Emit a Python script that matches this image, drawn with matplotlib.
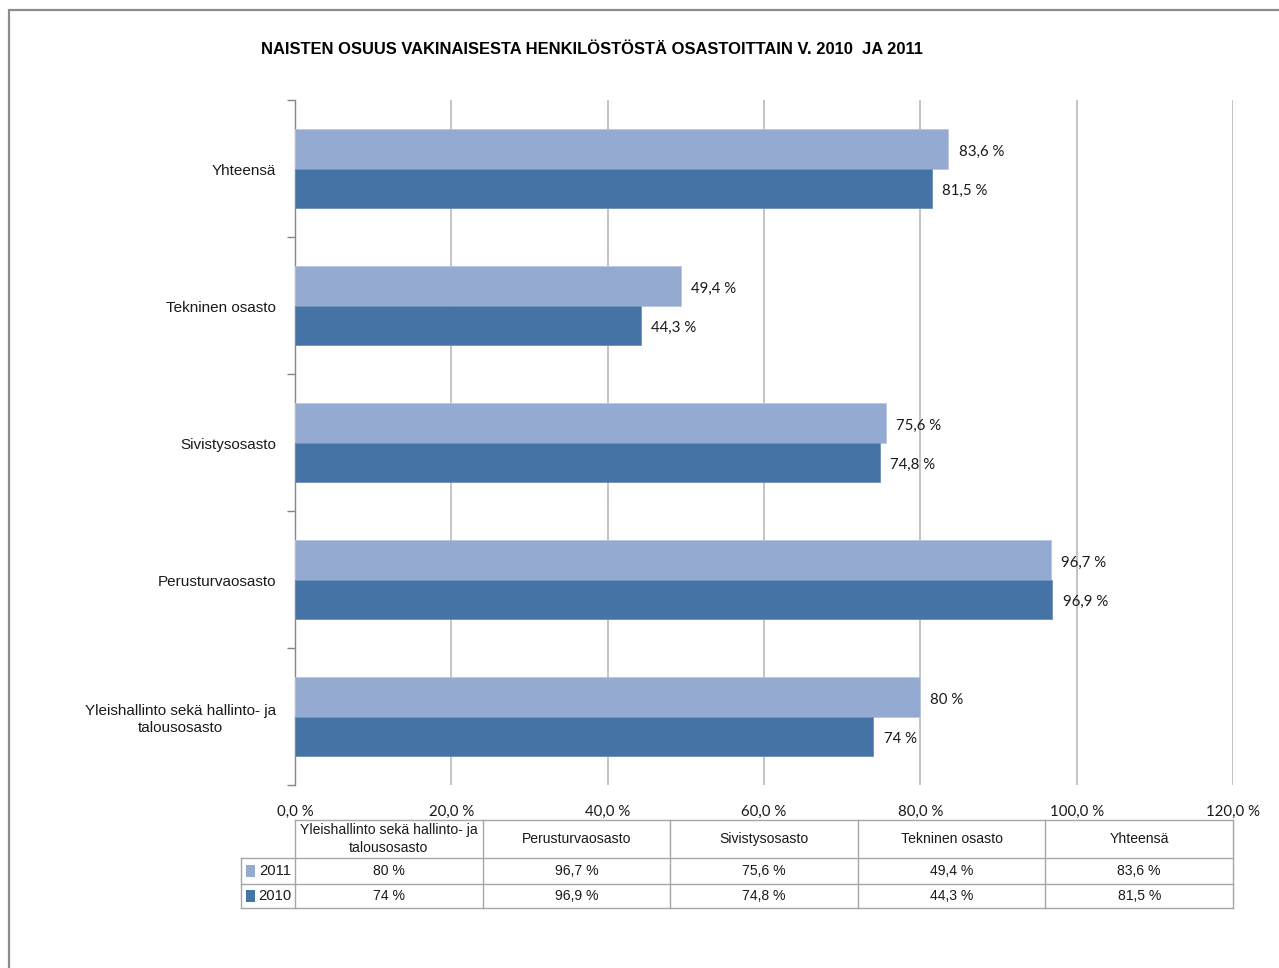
import numpy as np
import matplotlib.pyplot as plt
from matplotlib.patches import Rectangle
from matplotlib import font_manager

# data (bottom to top as drawn)
categories = ['Yleishallinto sekä hallinto- ja\ntalousosasto', 'Perusturvaosasto',
              'Sivistysosasto', 'Tekninen osasto', 'Yhteensä']
table_labels = ['Yleishallinto sekä hallinto- ja\ntalousosasto', 'Perusturvaosasto',
                'Sivistysosasto', 'Tekninen osasto', 'Yhteensä']
vals_2011 = [80, 96.7, 75.6, 49.4, 83.6]
vals_2010 = [74, 96.9, 74.8, 44.3, 81.5]
labels_2011 = ['80 %', '96,7 %', '75,6 %', '49,4 %', '83,6 %']
labels_2010 = ['74 %', '96,9 %', '74,8 %', '44,3 %', '81,5 %']
xticks = [0, 20, 40, 60, 80, 100, 120]
xticklabels = ['0,0 %', '20,0 %', '40,0 %', '60,0 %', '80,0 %', '100,0 %', '120,0 %']

c2011 = '#95AAD0'
c2010 = '#4573A6'
grid_c = '#BFBFBF'
axis_c = '#868686'

names = {f.name for f in font_manager.fontManager.ttflist}
narrow = ['Liberation Sans Narrow', 'Liberation Sans'] if 'Liberation Sans Narrow' in names else ['Liberation Sans']
calib = ['Lato', 'DejaVu Sans']

fig = plt.figure(figsize=(12.79, 9.68), dpi=100)
ax = fig.add_axes([295 / 1279, 1 - 785 / 968, (1233 - 295) / 1279, 685 / 968])

# outer frame
fig.patches.append(Rectangle((9 / 1279, -0.1), 1.2, 1.1 - 10 / 968, transform=fig.transFigure,
                             fill=False, edgecolor='#8C8C8C', linewidth=1.6))

y = np.arange(len(categories))
h = 0.285
ax.barh(y + h / 2, vals_2011, height=h, color=c2011, edgecolor='#B8C6E0', linewidth=0.6, zorder=3)
ax.barh(y - h / 2, vals_2010, height=h, color=c2010, edgecolor='#6F90BA', linewidth=0.6, zorder=3)

for i in range(len(categories)):
    ax.text(vals_2011[i] + 1.3, y[i] + h / 2 - 0.02, labels_2011[i], va='center', ha='left',
            fontsize=10.8, family=calib, color='#1A1A1A', zorder=4)
    ax.text(vals_2010[i] + 1.3, y[i] - h / 2 - 0.02, labels_2010[i], va='center', ha='left',
            fontsize=10.8, family=calib, color='#1A1A1A', zorder=4)

ax.set_xlim(0, 120)
ax.set_ylim(-0.5, len(categories) - 0.5)
ax.set_xticks(xticks)
ax.set_xticklabels(xticklabels, family=calib, fontsize=10.8, color='#1A1A1A')
ax.tick_params(axis='x', length=0, pad=14)
for x in xticks[1:]:
    ax.axvline(x, color=grid_c, linewidth=1.3, zorder=1)

# y axis: category ticks between groups
ax.set_yticks(np.arange(-0.5, len(categories)), minor=False)
ax.set_yticklabels([])
ax.tick_params(axis='y', length=6, color=axis_c, width=1)
for i, c in enumerate(categories):
    ax.text(-2.4, y[i] - 0.02, c, ha='right', va='center', multialignment='center',
            fontsize=11, family=narrow, color='#1A1A1A', linespacing=1.25)

for s in ['top', 'right', 'bottom']:
    ax.spines[s].set_visible(False)
ax.spines['left'].set_color(axis_c)
ax.spines['left'].set_linewidth(1)

# data table below the axis (x in data units, y in axes fraction)
tr = ax.get_xaxis_transform()
ytop, yh1, yr1, yr2 = -0.0511, -0.1066, -0.1445, -0.1796
xl = -6.9
lc = '#A6A6A6'
lw = 1.0
ncol = len(table_labels)
colw = 120 / ncol
# horizontal lines
ax.plot([0, 120], [ytop, ytop], transform=tr, color=lc, lw=lw, clip_on=False)
for yy in [yh1, yr1, yr2]:
    ax.plot([xl, 120], [yy, yy], transform=tr, color=lc, lw=lw, clip_on=False)
# vertical lines
ax.plot([xl, xl], [yh1, yr2], transform=tr, color=lc, lw=lw, clip_on=False)
for j in range(ncol + 1):
    ax.plot([j * colw, j * colw], [ytop, yr2], transform=tr, color=lc, lw=lw, clip_on=False)

tkw = dict(transform=tr, ha='center', va='center', fontsize=10.1, family=narrow, color='#1A1A1A',
           clip_on=False)
for j in range(ncol):
    xc = (j + 0.5) * colw
    ax.text(xc, (ytop + yh1) / 2, table_labels[j], multialignment='center', linespacing=1.35, **tkw)
    ax.text(xc, (yh1 + yr1) / 2, labels_2011[j], **tkw)
    ax.text(xc, (yr1 + yr2) / 2, labels_2010[j], **tkw)

for yy0, yy1, col, lab in [(yh1, yr1, c2011, '2011'), (yr1, yr2, c2010, '2010')]:
    ym = (yy0 + yy1) / 2
    ax.add_patch(Rectangle((xl + 0.65, ym - 0.0085), 1.1, 0.017, transform=tr, facecolor=col,
                           edgecolor='none', clip_on=False))
    ax.text(-0.5, ym, lab, transform=tr, ha='right', va='center', fontsize=10.6, family=narrow,
            color='#1A1A1A', clip_on=False)

fig.text(592 / 1279, 1 - 50 / 968, 'NAISTEN OSUUS VAKINAISESTA HENKILÖSTÖSTÄ OSASTOITTAIN V. 2010  JA 2011',
         ha='center', va='center', fontsize=11.9, fontweight='bold', family=narrow, color='#000000')

fig.savefig('out.png', dpi=100)
